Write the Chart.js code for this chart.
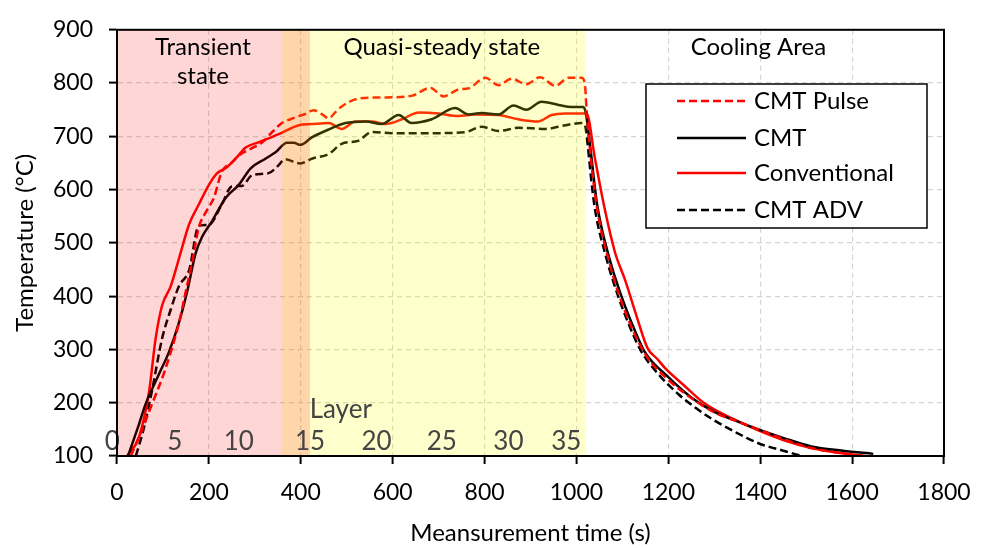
<!DOCTYPE html>
<html><head><meta charset="utf-8">
<script src="https://cdn.jsdelivr.net/npm/chart.js@4.4.0/dist/chart.umd.min.js"></script>
<style>html,body{margin:0;padding:0;background:#fff}</style>
</head><body>
<canvas id="c" width="989" height="548"></canvas>
<script>
// ---------- data ----------
const seriesNames = ['CMT Pulse', 'CMT', 'Conventional', 'CMT ADV'];

const pulseT = [30,50,76,100,117,135,149,165,178,195,211,228,250,265,290,315,340,359,380,396,410,428,445,461,475,489,526,576,641,682,711,743,765,802,830,859,891,921,954,983,1011,1018,1022,1030,1045,1072,1100,1149,1200,1258,1300,1350,1396,1450,1511,1600,1660];
const pulseV = [100,140,197,250,295,350,406,470,529,560,585,633,651,664,676,688,710,725,733,738,742,749,742,734,745,756,771,773,776,791,775,788,790,810,796,808,798,811,795,810,810,800,750,670,565,462,385,292,243,204,182,165,150,132,115,103,97];

const cmtT = [24,48,62,91,113,135,152,171,185,207,236,265,291,323,345,370,385,399,424,461,497,541,576,613,641,685,736,765,793,830,863,891,924,961,989,1015,1020,1030,1045,1072,1100,1125,1149,1200,1250,1300,1350,1396,1450,1511,1580,1646];
const cmtV = [100,160,197,253,295,351,406,480,511,541,584,609,640,658,670,688,688,684,698,713,725,728,723,740,725,732,753,741,744,741,758,750,765,759,755,755,745,680,572,470,395,340,295,248,210,183,165,150,134,118,110,104];

const convT = [22,48,70,84,98,117,138,157,178,200,218,236,258,280,309,352,396,424,461,489,519,554,584,620,657,700,743,780,830,874,917,946,975,1015,1022,1040,1060,1084,1106,1130,1155,1175,1193,1236,1280,1340,1396,1450,1511,1570,1628,1682];
const convV = [100,136,222,320,382,419,480,535,572,609,631,640,658,679,689,704,721,723,725,714,728,728,723,732,745,743,738,741,740,732,728,740,743,743,743,660,570,482,430,365,302,283,265,231,198,170,148,130,115,106,100,97];

const advT = [41,59,76,98,117,135,157,178,200,228,250,272,294,330,352,365,399,424,461,489,526,554,598,685,759,793,830,874,933,976,1011,1018,1025,1032,1040,1065,1090,1115,1140,1180,1222,1260,1294,1350,1396,1450,1497,1520];
const advV = [100,154,222,320,375,419,449,532,534,572,606,607,627,631,646,657,649,658,667,686,692,708,706,706,708,718,710,716,714,721,725,722,680,620,565,472,402,345,298,252,216,190,170,143,124,110,99,95];

const xTicks = [0,200,400,600,800,1000,1200,1400,1600,1800];
const yTicks = [100,200,300,400,500,600,700,800,900];

const layerLabels = ['0','5','10','15','20','25','30','35'];
const layerTimes  = [-10,126,265,420,565,707,852,978];

// phases (s)
const transientSpan = [0, 420];
const steadySpan = [358, 1021];

const regionTexts = [['Transient','state'], ['Quasi-steady state'], ['Cooling Area']];

// ---------- build ----------
function pts(T, V){ return T.map((t,i)=>({x:t, y:V[i]})); }
const FONT = 'Lato, "Open Sans", sans-serif';

const styles = [
  {color:'#ff0000', dash:[8,4]},
  {color:'#000000', dash:[]},
  {color:'#ff0000', dash:[]},
  {color:'#000000', dash:[8,4]},
];
const dataSets = [pts(pulseT,pulseV), pts(cmtT,cmtV), pts(convT,convV), pts(advT,advV)];

const datasets = seriesNames.map((n,i)=>({
  label:n, data:dataSets[i], borderColor:styles[i].color, borderDash:styles[i].dash,
  borderWidth:2.5, pointRadius:0, fill:false, cubicInterpolationMode:'monotone'
}));

const bandPlugin = {
  id:'bands',
  afterDatasetsDraw(chart){
    const {ctx, chartArea:a, scales:{x,y}} = chart;
    ctx.save();
    ctx.fillStyle = 'rgba(255,255,0,0.2)';
    let x1 = x.getPixelForValue(steadySpan[0]), x2 = x.getPixelForValue(steadySpan[1]);
    ctx.fillRect(x1, a.top, x2-x1, a.bottom-a.top);
    ctx.fillStyle = 'rgba(255,0,0,0.16)';
    x1 = x.getPixelForValue(transientSpan[0]); x2 = x.getPixelForValue(transientSpan[1]);
    ctx.fillRect(x1, a.top, x2-x1, a.bottom-a.top);
    // layer labels on top of bands
    ctx.fillStyle = '#444444';
    ctx.font = '26px ' + FONT;
    ctx.textAlign = 'center'; ctx.textBaseline = 'middle';
    const yy = y.getPixelForValue(127);
    layerLabels.forEach((l,i)=>ctx.fillText(l, x.getPixelForValue(layerTimes[i]), yy));
    ctx.fillText('Layer', x.getPixelForValue(487), y.getPixelForValue(187));
    ctx.restore();
  }
};

const decoPlugin = {
  id:'deco',
  afterDraw(chart){
    const {ctx, chartArea:a, scales:{x,y}} = chart;
    ctx.save();
    ctx.strokeStyle = '#000'; ctx.lineWidth = 2;
    ctx.strokeRect(a.left, a.top, a.right-a.left, a.bottom-a.top);
    ctx.fillStyle = '#000'; ctx.font = '24px ' + FONT;
    ctx.textAlign = 'center'; ctx.textBaseline = 'middle';
    const regionPos = [[187,[868,812]],[707,[868]],[1396,[868]]];
    regionTexts.forEach((lines,i)=>{
      lines.forEach((ln,j)=>ctx.fillText(ln, x.getPixelForValue(regionPos[i][0]), y.getPixelForValue(regionPos[i][1][j])));
    });
    const L = {x:646, y:84, w:281, h:144};
    ctx.fillStyle = '#fff'; ctx.fillRect(L.x, L.y, L.w, L.h);
    ctx.lineWidth = 1.5; ctx.strokeStyle = '#000'; ctx.strokeRect(L.x, L.y, L.w, L.h);
    const rows = [101, 138, 173, 210];
    chart.data.datasets.forEach((ds,i)=>{
      ctx.beginPath();
      ctx.setLineDash(ds.borderDash);
      ctx.strokeStyle = ds.borderColor; ctx.lineWidth = 2.5;
      ctx.moveTo(677, rows[i]); ctx.lineTo(746, rows[i]); ctx.stroke();
      ctx.setLineDash([]);
      ctx.fillStyle = '#000'; ctx.textAlign = 'left';
      ctx.fillText(ds.label, 754, rows[i]);
    });
    ctx.restore();
  }
};

const plain = v => String(v);

new Chart(document.getElementById('c'), {
  type:'line',
  data:{datasets},
  plugins:[bandPlugin, decoPlugin],
  options:{
    responsive:false, animation:false,
    layout:{padding:{top:22, right:45, left:0, bottom:0}},
    plugins:{legend:{display:false}, tooltip:{enabled:false}},
    scales:{
      x:{
        type:'linear', min:0, max:1800,
        afterBuildTicks(s){ s.ticks = xTicks.map(v=>({value:v})); },
        afterFit(s){ s.height = 92; },
        grid:{color:'#d4d4d4', lineWidth:1.2, tickLength:8, tickColor:'#000', tickWidth:2, tickBorderDash:[]},
        border:{color:'#000', width:2, dash:[5,4]},
        ticks:{color:'#000', font:{family:FONT, size:23}, padding:15, maxRotation:0, callback:plain},
        title:{display:true, text:'Meansurement time (s)', color:'#000', font:{family:FONT, size:24}, padding:{top:0,bottom:0}}
      },
      y:{
        type:'linear', min:100, max:900,
        afterBuildTicks(s){ s.ticks = yTicks.map(v=>({value:v})); },
        afterFit(s){ s.width = 117; },
        grid:{color:'#d4d4d4', lineWidth:1.2, tickLength:8, tickColor:'#000', tickWidth:2, tickBorderDash:[]},
        border:{color:'#000', width:2, dash:[5,4]},
        ticks:{color:'#000', font:{family:FONT, size:23}, padding:16, callback:plain},
        title:{display:true, text:'Temperature (°C)', color:'#000', font:{family:FONT, size:24}, padding:{top:11,bottom:0}}
      }
    }
  }
});
</script>
</body></html>
